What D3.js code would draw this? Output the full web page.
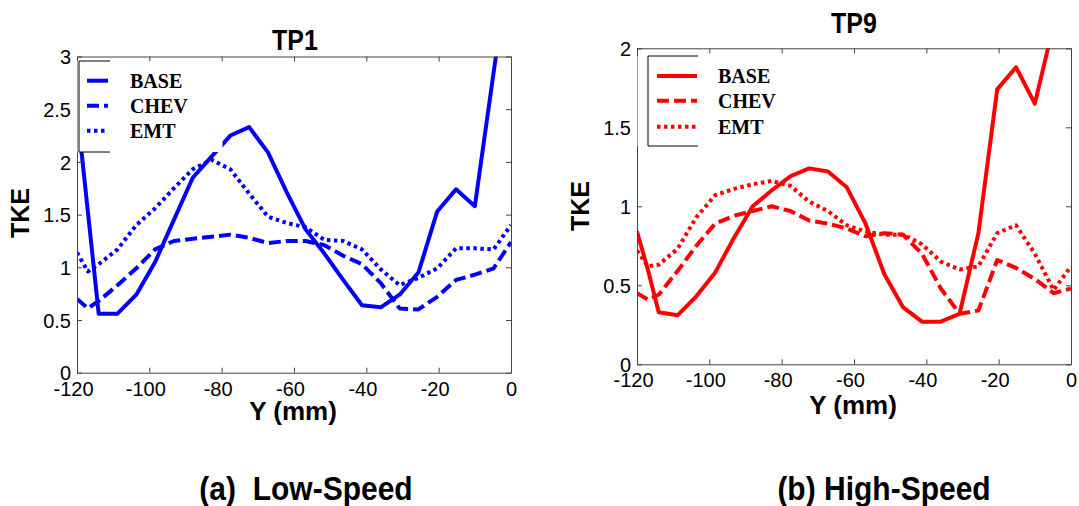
<!DOCTYPE html>
<html>
<head>
<meta charset="utf-8">
<script src="https://cdn.jsdelivr.net/npm/d3@7"></script>
<style>
  html, body { margin: 0; padding: 0; background: #fff; }
  svg { display: block; }
  .pre { white-space: pre; }
</style>
</head>
<body>
<svg id="chart" width="1079" height="506"></svg>
<script>
// ---- data ----
const yPositions = [-120, -117, -114, -108.8, -103.6, -98.4, -93.2, -88, -82.8, -77.6, -72.4, -67.2,
                    -62, -56.8, -51.6, -46.4, -41.2, -36, -30.8, -25.6, -20.4, -15.2, -10, -4.8, 0];
const seriesNames = ["BASE", "CHEV", "EMT"];

const tp1Base = [2.5, 1.53, 0.56, 0.56, 0.74, 1.05, 1.45, 1.85, 2.05, 2.25, 2.33, 2.09,
                 1.71, 1.36, 1.13, 0.88, 0.64, 0.62, 0.74, 0.95, 1.53, 1.74, 1.58, 2.85, 4.0];
const tp1Chev = [0.70, 0.61, 0.68, 0.83, 0.99, 1.17, 1.25, 1.27, 1.29, 1.31, 1.28, 1.23,
                 1.25, 1.25, 1.21, 1.11, 1.03, 0.85, 0.61, 0.60, 0.72, 0.88, 0.93, 0.99, 1.24];
const tp1Emt  = [1.14, 0.96, 1.03, 1.17, 1.40, 1.56, 1.75, 1.93, 2.02, 1.93, 1.70, 1.48,
                 1.42, 1.38, 1.26, 1.25, 1.17, 0.98, 0.83, 0.90, 0.99, 1.18, 1.18, 1.17, 1.40];

const tp9Base = [0.84, 0.60, 0.33, 0.31, 0.43, 0.58, 0.80, 1.00, 1.10, 1.19, 1.24, 1.22,
                 1.12, 0.89, 0.57, 0.36, 0.27, 0.27, 0.32, 0.83, 1.74, 1.88, 1.65, 2.15, 2.6];
const tp9Chev = [0.45, 0.41, 0.44, 0.59, 0.75, 0.89, 0.94, 0.97, 1.00, 0.97, 0.91, 0.89,
                 0.86, 0.81, 0.83, 0.82, 0.70, 0.48, 0.32, 0.34, 0.66, 0.61, 0.54, 0.45, 0.48];
const tp9Emt  = [0.72, 0.62, 0.63, 0.73, 0.93, 1.07, 1.11, 1.14, 1.16, 1.13, 1.03, 0.97,
                 0.88, 0.84, 0.82, 0.82, 0.76, 0.65, 0.60, 0.62, 0.83, 0.88, 0.70, 0.47, 0.62];

const xTicks = [-120, -100, -80, -60, -40, -20, 0];
const yTicksTP1 = [0, 0.5, 1, 1.5, 2, 2.5, 3];
const yTicksTP9 = [0, 0.5, 1, 1.5, 2];
const titles = ["TP1", "TP9"];
const captions = ["(a)  Low-Speed", "(b) High-Speed"];
const yLabel = "TKE";
const xLabel = "Y (mm)";

// ---- drawing ----
const svg = d3.select("#chart");
const FONT = "'Liberation Sans', Arial, sans-serif";
const SERIF = "'Liberation Serif', 'Times New Roman', serif";
const dashStyles = [null, "12,5", "3.5,3.5"];

const panels = [
  { id: "p1", color: "#0000ff", x0: 77, x1: 511, yTop: 56.5, yBot: 372.7, yMax: 3, yTicks: yTicksTP1,
    series: [tp1Base, tp1Chev, tp1Emt], title: titles[0], titleX: 295, titleY: 50,
    caption: captions[0], capX: 306, yLabX: 20, yLabY: 213, xLabX: 293, xLabY: 420,
    legend: { x: 79, y: 61, h: 91, lineW: 31, white: 143, s0: 87, s1: 108, tx: 130, rows: [80.7, 105.7, 130.7] } },
  { id: "p2", color: "#ff0000", x0: 637, x1: 1071, yTop: 48.3, yBot: 364.3, yMax: 2, yTicks: yTicksTP9,
    series: [tp9Base, tp9Chev, tp9Emt], title: titles[1], titleX: 854, titleY: 33,
    caption: captions[1], capX: 884, yLabX: 580, yLabY: 206, xLabX: 853, xLabY: 414,
    legend: { x: 648, y: 56, h: 90, lineW: 50, white: 150, s0: 657, s1: 697, tx: 718, rows: [76, 100.7, 126.7] } }
];

panels.forEach(p => {
  const x = d3.scaleLinear().domain([-120, 0]).range([p.x0, p.x1]);
  const y = d3.scaleLinear().domain([0, p.yMax]).range([p.yBot, p.yTop]);
  const g = svg.append("g");

  // clip
  svg.append("defs").append("clipPath").attr("id", "clip-" + p.id)
    .append("rect").attr("x", p.x0).attr("y", p.yTop).attr("width", p.x1 - p.x0).attr("height", p.yBot - p.yTop);

  // lines
  const line = d3.line().x((d, i) => x(yPositions[i])).y(d => y(d));
  p.series.forEach((vals, si) => {
    g.append("path")
      .attr("clip-path", "url(#clip-" + p.id + ")")
      .attr("d", line(vals))
      .attr("fill", "none")
      .attr("stroke", p.color)
      .attr("stroke-width", 4)
      .attr("stroke-linejoin", "round")
      .attr("stroke-dasharray", dashStyles[si]);
  });

  // axes (ticks inward on all sides)
  const axColor = "#444";
  const bottom = g.append("g").attr("transform", `translate(0,${p.yBot})`)
    .call(d3.axisBottom(x).tickValues(xTicks).tickSizeInner(-5).tickSizeOuter(0).tickPadding(9)
      .tickFormat(d => d3.format("d")(d).replace("−", "-")));
  const left = g.append("g").attr("transform", `translate(${p.x0},0)`)
    .call(d3.axisLeft(y).tickValues(p.yTicks).tickSizeInner(-5).tickSizeOuter(0).tickPadding(6)
      .tickFormat(d => String(d)));
  const top = g.append("g").attr("transform", `translate(0,${p.yTop})`)
    .call(d3.axisTop(x).tickValues(xTicks).tickSizeInner(-5).tickSizeOuter(0).tickFormat(""));
  const right = g.append("g").attr("transform", `translate(${p.x1},0)`)
    .call(d3.axisRight(y).tickValues(p.yTicks).tickSizeInner(-5).tickSizeOuter(0).tickFormat(""));
  [bottom, left, top, right].forEach(a => {
    a.select(".domain").attr("stroke", axColor);
    a.selectAll(".tick line").attr("stroke", axColor);
    a.selectAll("text").attr("font-family", FONT).attr("font-size", 20).attr("fill", "#000");
  });
  bottom.selectAll("text").attr("dx", d => d < 0 ? -4 : 0);
  left.selectAll("text").attr("dy", "0.36em");

  // legend (white box partly covering the curves, right border cut off)
  const L = p.legend;
  const lg = g.append("g");
  lg.append("rect").attr("x", p.x0 + 0.5).attr("y", L.y).attr("width", L.white + (L.x - p.x0)).attr("height", L.h).attr("fill", "#fff");
  lg.append("path")
    .attr("d", `M${L.x + L.lineW},${L.y}H${L.x}V${L.y + L.h}H${L.x + L.lineW}`)
    .attr("fill", "none").attr("stroke", "#000").attr("stroke-width", 1);
  seriesNames.forEach((name, si) => {
    lg.append("line").attr("x1", L.s0).attr("x2", L.s1).attr("y1", L.rows[si]).attr("y2", L.rows[si])
      .attr("stroke", p.color).attr("stroke-width", 4).attr("stroke-dasharray", dashStyles[si]);
    lg.append("text").attr("x", L.tx).attr("y", L.rows[si]).attr("dy", "0.35em")
      .attr("font-family", SERIF).attr("font-weight", "bold").attr("font-size", 20).attr("fill", "#000")
      .text(name);
  });

  // titles & labels
  g.append("text").attr("transform", `translate(${p.titleX},${p.titleY}) scale(1,1.15)`).attr("text-anchor", "middle")
    .attr("font-family", FONT).attr("font-weight", "bold").attr("font-size", 25).text(p.title);
  g.append("text").attr("transform", `translate(${p.yLabX},${p.yLabY}) rotate(-90)`)
    .attr("text-anchor", "middle").attr("dy", "0.36em")
    .attr("font-family", FONT).attr("font-weight", "bold").attr("font-size", 25).text(yLabel);
  g.append("text").attr("transform", `translate(${p.xLabX},${p.xLabY})`).attr("text-anchor", "middle")
    .attr("font-family", FONT).attr("font-weight", "bold").attr("font-size", 26).text(xLabel);
  g.append("text").attr("class", "pre").attr("xml:space", "preserve")
    .attr("transform", `translate(${p.capX},500) scale(1,1.12)`).attr("text-anchor", "middle")
    .attr("font-family", FONT).attr("font-weight", "bold").attr("font-size", 30).text(p.caption);
});
</script>
</body>
</html>
